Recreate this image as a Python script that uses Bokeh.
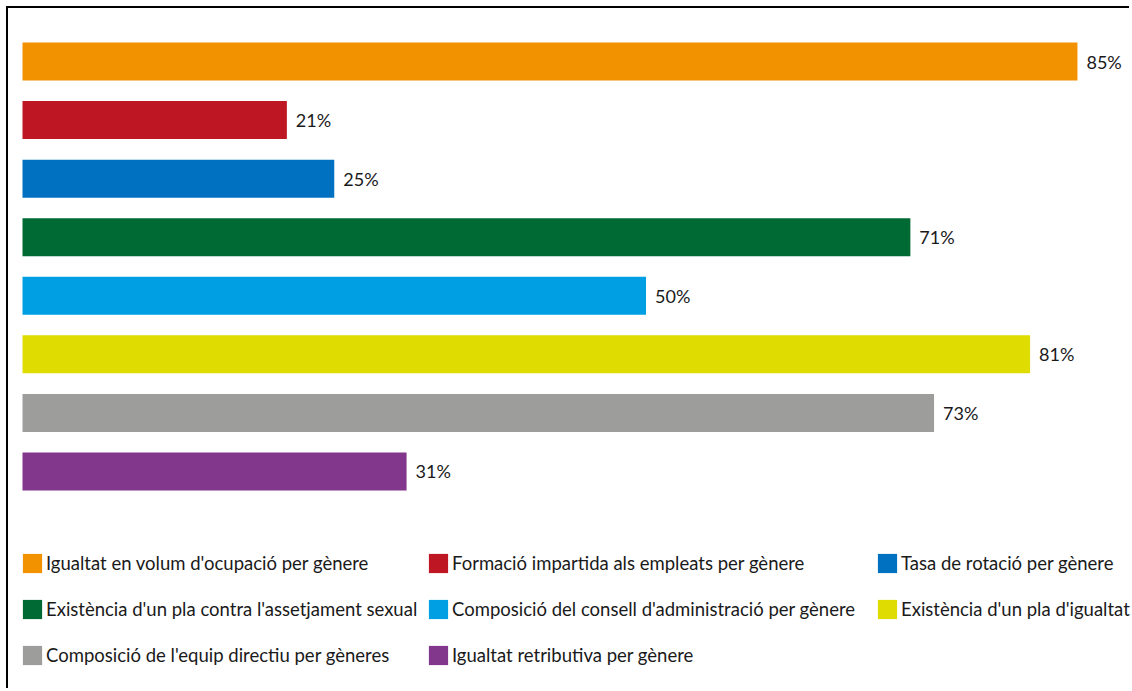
from bokeh.plotting import figure
from bokeh.models import ColumnDataSource, Range1d, Legend, LegendItem
from bokeh.core.properties import value
from bokeh.embed import file_html
from bokeh.resources import INLINE

# ---- data ----
categories = [
    "Igualtat en volum d'ocupació per gènere",
    "Formació impartida als empleats per gènere",
    "Tasa de rotació per gènere",
    "Existència d'un pla contra l'assetjament sexual",
    "Composició del consell d'administració per gènere",
    "Existència d'un pla d'igualtat",
    "Composició de l'equip directiu per gèneres",
    "Igualtat retributiva per gènere",
]
values = [84.6, 21.2, 25.0, 71.2, 50.0, 80.8, 73.1, 30.8]
colors = ["#F39200", "#BE1622", "#0070C0", "#006A35",
          "#009FE3", "#DEDC00", "#9D9D9C", "#82368C"]
labels = [f"{round(v)}%" for v in values]

# ---- layout ----
O = 8                     # screen offset of the canvas
W, H = 1123, 682
px_per_unit = 12.47
x_start = -(22 - O) / px_per_unit
x_end = x_start + W / px_per_unit
row_px = 58.57
y_top = -(61 - O) / row_px
y_bottom = y_top + H / row_px

FONT = "Lato"
TEXT_COLOR = "#1a1a1a"

src = ColumnDataSource(dict(
    y=list(range(len(categories))),
    v=values,
    color=colors,
    label=labels,
    cat=categories,
))

p = figure(width=W, height=H, output_backend="svg", toolbar_location=None,
           x_range=Range1d(x_start, x_end),
           y_range=Range1d(y_bottom, y_top),
           x_axis_location=None, y_axis_location=None,
           min_border=0, outline_line_color=None,
           background_fill_color="white", border_fill_color="white")
p.xgrid.visible = False
p.ygrid.visible = False
p.styles = {"border-left": "2px solid black", "border-top": "2px solid black",
            "margin-left": "6px", "margin-top": "6px"}

bars = p.hbar(y="y", left=0, right="v", height=38 / row_px,
              fill_color="color", line_color=None, source=src)

p.text(x="v", y="y", text="label", source=src, x_offset=9,
       text_baseline="middle", text_align="left",
       text_font=value(FONT), text_font_size="18px", text_color=TEXT_COLOR)

# ---- legends: three columns ----
col_x = [22 - O - 2, 428 - O - 2, 877 - O - 2]
glyph = 24
spacing = 22
for c in range(3):
    idxs = list(range(c, len(categories), 3))
    items = [LegendItem(label=categories[i], renderers=[bars], index=i) for i in idxs]
    nrows = len(idxs)
    top_screen = 553 - 2
    height = nrows * glyph + (nrows - 1) * spacing
    bottom_screen = top_screen + height
    y_loc = (O + H) - bottom_screen
    leg = Legend(items=items, location=(col_x[c], y_loc), orientation="vertical",
                 glyph_width=glyph, glyph_height=glyph, label_standoff=2,
                 spacing=spacing, padding=0, margin=0, label_height=glyph,
                 border_line_color=None, background_fill_alpha=0,
                 label_text_font=FONT, label_text_font_size="18.5px",
                 label_text_color=TEXT_COLOR, label_text_baseline="middle")
    p.add_layout(leg)

open("out.html", "w").write(file_html(p, INLINE))
